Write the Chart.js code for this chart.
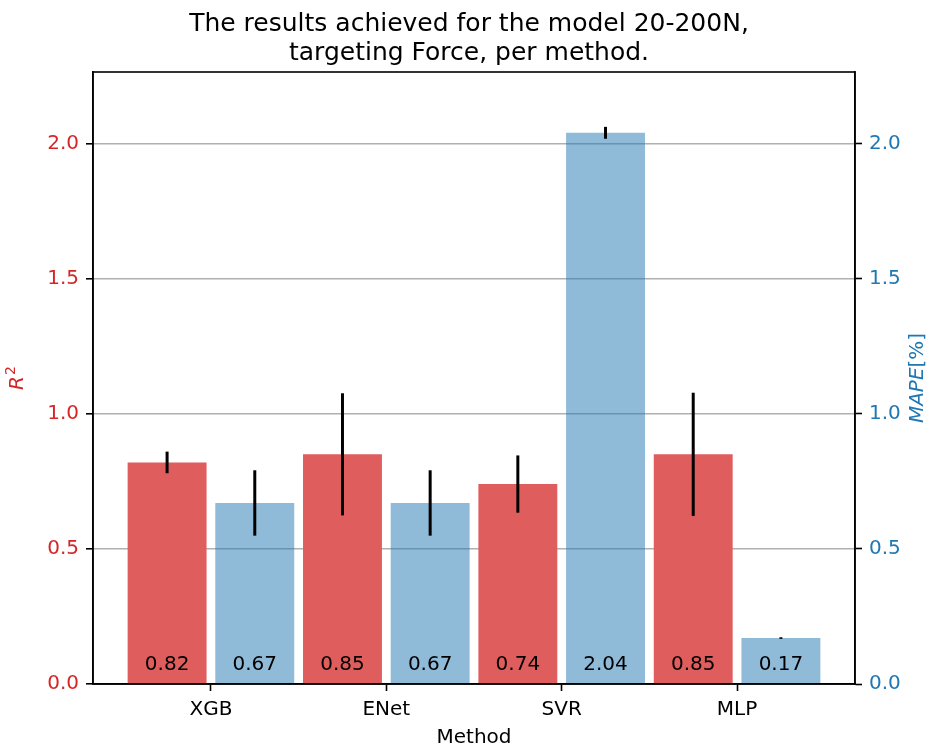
<!DOCTYPE html>
<html>
<head>
<meta charset="utf-8">
<script src="https://cdn.jsdelivr.net/npm/chart.js@4/dist/chart.umd.min.js"></script>
<style>
    body { margin: 0; background: #fff; }
    canvas { display: block; }
</style>
</head>
<body>
<canvas id="resultsChart" width="938" height="747"></canvas>
<script>
// Data
const methods = ['XGB', 'ENet', 'SVR', 'MLP'];
const r2Values = [0.82, 0.85, 0.74, 0.85];
const r2Errors = [0.04, 0.226, 0.106, 0.228];
const mapeValues = [0.67, 0.67, 2.04, 0.17];
const mapeErrors = [0.121, 0.121, 0.022, 0.003];
const yTicks = [0.0, 0.5, 1.0, 1.5, 2.0];
const titleLines = ['The results achieved for the model 20-200N,', 'targeting Force, per method.'];

const RED = '#d62728';
const BLUE = '#1f77b4';
const Y_MAX = 2.265;

Chart.defaults.font.family = "'DejaVu Sans', sans-serif";
Chart.defaults.color = '#000';

// bars sit either side of the category position
const barOffset = 0.25;
const r2Points = r2Values.map((v, i) => ({ x: i - barOffset, y: v }));
const mapePoints = mapeValues.map((v, i) => ({ x: i + barOffset, y: v }));

// Helper to pin the axis sizes like the reference
function fixSize(prop, size) {
    return function(scale) { scale[prop] = size; };
}

const errorBars = {
    id: 'errorBars',
    afterDatasetsDraw(chart) {
        const ctx = chart.ctx;
        ctx.save();
        ctx.strokeStyle = '#000';
        ctx.lineWidth = 3;
        chart.data.datasets.forEach((ds, di) => {
            const meta = chart.getDatasetMeta(di);
            const yScale = chart.scales[ds.yAxisID];
            meta.data.forEach((bar, i) => {
                const v = ds.data[i].y;
                const e = ds.errors[i];
                ctx.beginPath();
                ctx.moveTo(bar.x, yScale.getPixelForValue(v - e));
                ctx.lineTo(bar.x, yScale.getPixelForValue(v + e));
                ctx.stroke();
            });
        });
        ctx.restore();
    }
};

const barLabels = {
    id: 'barLabels',
    afterDatasetsDraw(chart) {
        const ctx = chart.ctx;
        ctx.save();
        ctx.fillStyle = '#000';
        ctx.font = "20px 'DejaVu Sans'";
        ctx.textAlign = 'center';
        ctx.textBaseline = 'alphabetic';
        chart.data.datasets.forEach((ds, di) => {
            const meta = chart.getDatasetMeta(di);
            const yScale = chart.scales[ds.yAxisID];
            meta.data.forEach((bar, i) => {
                ctx.fillText(ds.data[i].y.toFixed(2), bar.x, yScale.getPixelForValue(0.05));
            });
        });
        ctx.restore();
    }
};

// frame + rotated axis titles with mixed styling
const frameAndTitles = {
    id: 'frameAndTitles',
    afterDraw(chart) {
        const ctx = chart.ctx;
        const area = chart.chartArea;
        const midY = (area.top + area.bottom) / 2;
        ctx.save();
        ctx.strokeStyle = '#000';
        ctx.lineWidth = 1.6;
        ctx.strokeRect(area.left, area.top, area.right - area.left, area.bottom - area.top);

        // R^2 on the left
        ctx.save();
        ctx.translate(18, midY);
        ctx.rotate(-Math.PI / 2);
        ctx.fillStyle = RED;
        ctx.textBaseline = 'middle';
        ctx.font = "italic 20px 'DejaVu Sans'";
        const rW = ctx.measureText('R').width;
        ctx.font = "14px 'DejaVu Sans'";
        const sW = ctx.measureText('2').width;
        let x = -(rW + sW + 1) / 2;
        ctx.font = "italic 20px 'DejaVu Sans'";
        ctx.textAlign = 'left';
        ctx.fillText('R', x, 0);
        ctx.font = "14px 'DejaVu Sans'";
        ctx.fillText('2', x + rW + 1, -7);
        ctx.restore();

        // MAPE[%] on the right
        ctx.save();
        ctx.translate(918, midY);
        ctx.rotate(-Math.PI / 2);
        ctx.fillStyle = BLUE;
        ctx.textBaseline = 'middle';
        ctx.textAlign = 'left';
        ctx.font = "italic 20px 'DejaVu Sans'";
        const mW = ctx.measureText('MAPE').width;
        ctx.font = "20px 'DejaVu Sans'";
        const pW = ctx.measureText('[%]').width;
        x = -(mW + pW) / 2;
        ctx.font = "italic 20px 'DejaVu Sans'";
        ctx.fillText('MAPE', x, 0);
        ctx.font = "20px 'DejaVu Sans'";
        ctx.fillText('[%]', x + mW, 0);
        ctx.restore();

        ctx.restore();
    }
};

const ctx = document.getElementById('resultsChart').getContext('2d');
new Chart(ctx, {
    type: 'bar',
    data: {
        datasets: [{
            label: 'R2',
            data: r2Points,
            errors: r2Errors,
            yAxisID: 'y',
            backgroundColor: '#e05d5e',
            grouped: false,
            categoryPercentage: 1,
            barPercentage: 0.9
        }, {
            label: 'MAPE',
            data: mapePoints,
            errors: mapeErrors,
            yAxisID: 'y1',
            backgroundColor: 'rgba(31, 119, 180, 0.5)',
            grouped: false,
            categoryPercentage: 1,
            barPercentage: 0.9
        }]
    },
    options: {
        responsive: false,
        animation: false,
        layout: { padding: 0 },
        plugins: {
            legend: { display: false },
            tooltip: { enabled: false },
            title: {
                display: true,
                text: titleLines,
                color: '#000',
                font: { size: 25, weight: 'normal', lineHeight: 1.16 },
                padding: { top: 9.5, bottom: 4.5 }
            }
        },
        scales: {
            x: {
                type: 'linear',
                position: 'bottom',
                min: -0.6725,
                max: 3.6725,
                offset: false,
                afterBuildTicks: (scale) => {
                    scale.ticks = methods.map((m, i) => ({ value: i }));
                },
                afterFit: fixSize('height', 63),
                ticks: {
                    color: '#000',
                    font: { size: 20 },
                    padding: 7,
                    maxRotation: 0,
                    callback: (value) => methods[value]
                },
                grid: {
                    offset: false,
                    drawOnChartArea: false,
                    drawTicks: true,
                    tickLength: 7,
                    tickColor: '#000',
                    tickWidth: 1.6
                },
                border: { display: true, color: '#000', width: 1.6 },
                title: {
                    display: true,
                    text: 'Method',
                    color: '#000',
                    font: { size: 20, lineHeight: 1 },
                    padding: { top: 0, bottom: -1 }
                }
            },
            y: {
                position: 'left',
                min: 0,
                max: Y_MAX,
                afterBuildTicks: (scale) => {
                    scale.ticks = yTicks.map(v => ({ value: v }));
                },
                afterFit: fixSize('width', 93),
                ticks: {
                    color: RED,
                    font: { size: 20 },
                    padding: 7,
                    callback: (value) => value.toFixed(1)
                },
                grid: {
                    color: '#b0b0b0',
                    lineWidth: 1.6,
                    drawTicks: true,
                    tickLength: 7,
                    tickColor: '#000',
                    tickWidth: 1.6
                },
                border: { display: true, color: '#000', width: 1.6 }
            },
            y1: {
                position: 'right',
                min: 0,
                max: Y_MAX,
                afterBuildTicks: (scale) => {
                    scale.ticks = yTicks.map(v => ({ value: v }));
                },
                afterFit: fixSize('width', 83),
                ticks: {
                    color: BLUE,
                    font: { size: 20 },
                    padding: 7,
                    callback: (value) => value.toFixed(1)
                },
                grid: {
                    drawOnChartArea: false,
                    drawTicks: true,
                    tickLength: 7,
                    tickColor: '#000',
                    tickWidth: 1.6
                },
                border: { display: true, color: '#000', width: 1.6 }
            }
        }
    },
    plugins: [errorBars, barLabels, frameAndTitles]
});
</script>
</body>
</html>
